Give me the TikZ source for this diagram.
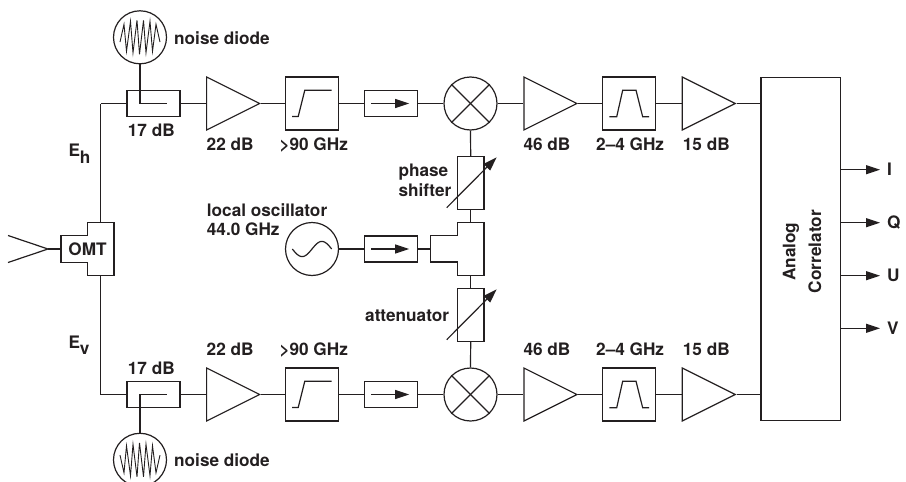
\documentclass[tikz,border=0pt]{standalone}
\usepackage{fontspec}
\setmainfont{TeX Gyre Heros}
\usetikzlibrary{arrows.meta,shapes.geometric}
\definecolor{inkline}{RGB}{35, 31, 32}
\tikzset{
    x=1pt,
    y=-1pt,
    wire/.style={draw=inkline, line width=1.2pt},
    blockbox/.style={wire, rectangle, inner sep=0pt, minimum width=53pt, minimum height=53pt},
    smallbox/.style={wire, rectangle, inner sep=0pt, minimum width=53pt, minimum height=26pt},
    tallbox/.style={wire, rectangle, inner sep=0pt, minimum width=26.5pt, minimum height=52.5pt},
    roundbox/.style={wire, circle, inner sep=0pt, minimum size=53pt},
    ampbox/.style={wire, isosceles triangle, isosceles triangle stretches, inner sep=0pt, minimum width=53pt, minimum height=53pt, anchor=lower side},
    gainlabel/.style={text=inkline, font=\fontsize{17.2}{19.5}\selectfont\bfseries, inner sep=0pt, anchor=base west},
    flowhead/.style={wire, -{Triangle[length=14pt,width=9pt]}},
    zigzag/.style={draw=inkline, line width=0.9pt}
}
\begin{document}
\begin{tikzpicture}
    \useasboundingbox (0,0) rectangle (906,482);
    \clip (0,0) rectangle (906,482);

    \coordinate (hornA) at (8,235.5);
    \coordinate (hornB) at (8,262.5);
    \coordinate (hornTip) at (48,249);
    \coordinate (omtLeft) at (61,249);
    \coordinate (omtTop) at (100.7,222.5);
    \coordinate (omtBottom) at (100.7,275.5);
    \coordinate (cornerH) at (100.7,103.5);
    \coordinate (cornerV) at (100.7,394.5);
    \draw[wire] (87.3,222.5) -- (114,222.5) -- (114,275.5) -- (87.3,275.5) -- (87.3,262.2) -- (61,262.2) -- (61,235.8) -- (87.3,235.8) -- cycle;
    \node[gainlabel, anchor=center] (omt) at (87.5,249) {OMT};
    \draw[wire] (hornA) -- (hornTip) -- (hornB);
    \draw[wire] (hornTip) -- (omtLeft);
    \draw[wire] (omtTop) -- (cornerH);
    \draw[wire] (omtBottom) -- (cornerV);

    \node[smallbox] (couplerH) at (153.5,103.5) {};
    \node[smallbox] (couplerV) at (153.5,394.5) {};
    \node[roundbox] (noiseH) at (140,37.3) {};
    \node[roundbox] (noiseV) at (140,459.8) {};
    \coordinate (tapH) at (140,103.5);
    \coordinate (tapV) at (140,394.5);
    \coordinate (tapEndH) at (166.7,103.5);
    \coordinate (tapEndV) at (166.7,394.5);
    \draw[wire] (noiseH) -- (tapH) -- (tapEndH);
    \draw[wire] (noiseV) -- (tapV) -- (tapEndV);
    \draw[wire] (cornerH) -- (couplerH.west);
    \draw[wire] (cornerV) -- (couplerV.west);

    \draw[zigzag, shift={(noiseH.center)}] (-20,4.7) -- (-16,-13) -- (-13.5,14) -- (-9.5,-16) -- (-7,15.5) -- (-3,-17) -- (-0.5,17) -- (3.5,-17) -- (6,15.5) -- (10,-16) -- (12.5,14) -- (16,-13) -- (20,4.7);
    \draw[zigzag, shift={(noiseV.center)}] (-20,-4.7) -- (-16,13) -- (-13.5,-14) -- (-9.5,16) -- (-7,-15.5) -- (-3,17) -- (-0.5,-17) -- (3.5,17) -- (6,-15.5) -- (10,16) -- (12.5,-14) -- (16,13) -- (20,-4.7);

    \node[ampbox] (ampH) at (206,103.5) {};
    \node[ampbox] (ampV) at (206,394.5) {};
    \node[blockbox] (highH) at (312,103.5) {};
    \node[blockbox] (highV) at (312,394.5) {};
    \node[smallbox] (isoH) at (391.2,103.5) {};
    \node[smallbox] (isoV) at (391.2,394.5) {};
    \node[roundbox] (mixH) at (470.5,103.5) {};
    \node[roundbox] (mixV) at (470.5,394.5) {};
    \node[ampbox] (gainH) at (523.3,103.5) {};
    \node[ampbox] (gainV) at (523.3,394.5) {};
    \node[blockbox] (bandH) at (629.2,103.5) {};
    \node[blockbox] (bandV) at (629.2,394.5) {};
    \node[ampbox] (driveH) at (681.7,103.5) {};
    \node[ampbox] (driveV) at (681.7,394.5) {};
    \node[wire, rectangle, inner sep=0pt, minimum width=79.7pt, minimum height=343.4pt] (corr) at (800.9,249) {};

    \foreach \arm in {H,V} {
        \draw[wire] (coupler\arm.east) -- (amp\arm.lower side);
        \draw[wire] (amp\arm.apex) -- (high\arm.west);
        \draw[wire] (high\arm.east) -- (iso\arm.west);
        \draw[wire] (iso\arm.east) -- (mix\arm.west);
        \draw[wire] (mix\arm.east) -- (gain\arm.lower side);
        \draw[wire] (gain\arm.apex) -- (band\arm.west);
        \draw[wire] (band\arm.east) -- (drive\arm.lower side);
        \draw[wire] (drive\arm.apex) -- (corr.west |- drive\arm.apex);
        \draw[wire] (mix\arm.north west) -- (mix\arm.south east);
        \draw[wire] (mix\arm.north east) -- (mix\arm.south west);
        \draw[wire, shift={(high\arm.center)}] (-19.8,13) -- (-13.8,13) -- (-7.2,-13.3) -- (19.5,-13.3);
        \draw[wire, shift={(band\arm.center)}] (-19.8,13.3) -- (-12.5,13.3) -- (-6.5,-13.3) -- (6.8,-13.3) -- (13.5,13.3) -- (19.8,13.3);
        \draw[flowhead, shift={(iso\arm.center)}] (-20,0) -- (18,0);
    }

    \node[tallbox] (phase) at (470.7,183) {};
    \node[tallbox] (atten) at (470.7,315) {};
    \node[roundbox] (osc) at (312,249) {};
    \node[smallbox] (isoL) at (391.2,249) {};
    \coordinate (teeTop) at (470.7,222.7);
    \coordinate (teeBottom) at (470.7,275.3);
    \coordinate (teeLeft) at (430.7,249);
    \draw[wire] (457.3,222.7) -- (484,222.7) -- (484,275.3) -- (457.3,275.3) -- (457.3,262) -- (430.7,262) -- (430.7,235.7) -- (457.3,235.7) -- cycle;
    \draw[wire] (mixH.south) -- (phase.north);
    \draw[wire] (phase.south) -- (teeTop);
    \draw[wire] (teeBottom) -- (atten.north);
    \draw[wire] (atten.south) -- (mixV.north);
    \draw[wire] (osc.east) -- (isoL.west);
    \draw[wire] (isoL.east) -- (teeLeft);
    \draw[flowhead, shift={(isoL.center)}] (-20,0) -- (18,0);
    \draw[wire, shift={(osc.center)}, domain=-1:1, samples=41] plot ({\x*19.7},{-7.6*sin(\x*180)});
    \draw[flowhead, shift={(phase.center)}] (-24,24.7) -- (26,-25.7);
    \draw[flowhead, shift={(atten.center)}] (-24,24.7) -- (26,-25.7);

    \foreach \stokes/\ypos in {I/169.7,Q/222.7,U/275.7,V/328.3} {
        \node[gainlabel, anchor=west] (out\stokes) at (887,\ypos) {\stokes};
        \draw[flowhead, shorten >=7pt] (corr.east |- out\stokes.west) -- (out\stokes.west);
    }

    \node[gainlabel] (noiseTextH) at (174,44.3) {noise diode};
    \node[gainlabel] (noiseTextV) at (174,466.7) {noise diode};
    \node[gainlabel] (fieldH) at (68.3,156.7) {E\raisebox{-6.6pt}{h}};
    \node[gainlabel] (fieldV) at (68.3,348.3) {E\raisebox{-6.6pt}{v}};
    \foreach \ybase/\arm/\ycoup in {150/H/136.7,355/V/374.7} {
        \node[gainlabel] (couple\arm) at (127.7,\ycoup) {17 dB};
        \node[gainlabel] (first\arm) at (206.5,\ybase) {22 dB};
        \node[gainlabel] (cut\arm) at (279.3,\ybase) {>90 GHz};
        \node[gainlabel] (second\arm) at (523.3,\ybase) {46 dB};
        \node[gainlabel] (pass\arm) at (596,\ybase) {2–4 GHz};
        \node[gainlabel] (third\arm) at (682.7,\ybase) {15 dB};
    }
    \node[gainlabel] (phaseText1) at (398.3,176.7) {phase};
    \node[gainlabel] (phaseText2) at (398.3,196) {shifter};
    \node[gainlabel] (oscText1) at (206.7,216) {local oscillator};
    \node[gainlabel] (oscText2) at (206.7,235) {44.0 GHz};
    \node[gainlabel] (attenText) at (365,321.7) {attenuator};
    \node[gainlabel, anchor=center, rotate=90, align=center, font=\fontsize{17.2}{25.7}\selectfont\bfseries] (corrText) at (802,251.7) {Analog\\Correlator};
\end{tikzpicture}
\end{document}
